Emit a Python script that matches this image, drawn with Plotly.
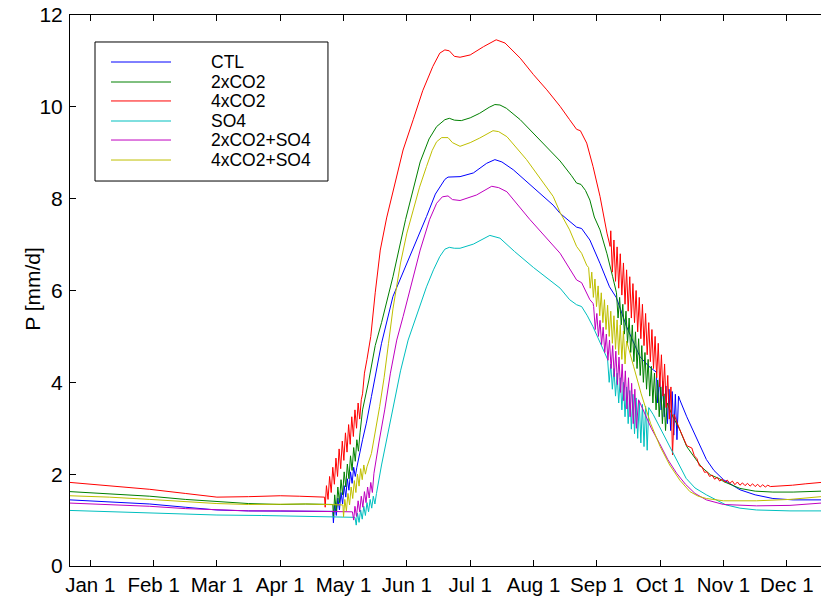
import plotly.graph_objects as go

# x in months since Jan 1 (tick i = 1st of month i+1), y = P [mm/d]
month_labels = ["Jan 1", "Feb 1", "Mar 1", "Apr 1", "May 1", "Jun 1",
                "Jul 1", "Aug 1", "Sep 1", "Oct 1", "Nov 1", "Dec 1"]
series_names = ["CTL", "2xCO2", "4xCO2", "SO4", "2xCO2+SO4", "4xCO2+SO4"]

ctl = [(-0.32,1.44),(0.3,1.40),(0.94,1.35),(1.5,1.28),(2.0,1.22),(2.5,1.20),(3.0,1.20),(3.4,1.20),(3.83,1.19),
       (3.84,0.94),(3.86,1.35),(3.885,1.10),(3.91,1.48),(3.935,1.22),(3.96,1.60),(3.985,1.35),(4.01,1.75),(4.035,1.50),
       (4.06,1.90),(4.085,1.65),(4.11,2.05),(4.135,1.80),(4.16,2.15),(4.185,1.95),
       (4.21,2.15),(4.30,2.75),(4.36,3.11),(4.44,3.69),(4.52,4.27),(4.60,4.85),(4.78,5.87),(5.05,6.74),(5.31,7.61),
       (5.45,8.10),(5.52,8.26),(5.60,8.42),(5.65,8.47),(5.75,8.48),(5.84,8.48),(6.05,8.56),(6.26,8.77),(6.39,8.85),
       (6.50,8.80),(6.68,8.63),(6.99,8.26),(7.31,7.86),(7.42,7.68),(7.55,7.54),(7.68,7.38),(7.76,7.35),(7.89,7.10),
       (8.05,6.59),(8.20,6.08),(8.31,5.84),(8.47,5.21),(8.68,4.56),(8.82,4.35),(8.94,4.22),
       (8.96,3.55),(8.99,4.12),(9.015,3.40),(9.04,4.02),(9.065,3.25),(9.09,3.92),(9.115,3.10),(9.14,3.85),
       (9.165,2.95),(9.19,3.80),(9.215,2.85),(9.24,3.74),(9.265,2.75),(9.29,3.70),
       (9.31,3.62),(9.42,3.25),(9.52,2.96),(9.63,2.62),(9.73,2.32),(9.85,2.08),(10.0,1.88),(10.26,1.66),
       (10.5,1.55),(10.78,1.47),(11.1,1.44),(11.54,1.44)]

co2x2 = [(-0.32,1.62),(0.3,1.57),(0.94,1.52),(1.5,1.45),(2.0,1.40),(2.5,1.36),(3.0,1.34),(3.4,1.35),(3.83,1.34),
         (3.84,1.08),(3.86,1.55),(3.885,1.20),(3.91,1.72),(3.935,1.38),(3.96,1.88),(3.985,1.55),(4.01,2.05),(4.035,1.72),
         (4.06,2.22),(4.085,1.90),(4.11,2.40),(4.135,2.08),(4.16,2.58),(4.185,2.28),(4.21,2.75),(4.235,2.50),
         (4.26,2.90),(4.30,3.40),(4.40,4.05),(4.50,4.80),(4.60,5.30),(4.78,6.30),(4.98,7.55),(5.10,8.20),(5.21,8.80),
         (5.35,9.30),(5.47,9.57),(5.60,9.72),(5.67,9.75),(5.75,9.71),(5.86,9.70),(6.0,9.76),(6.15,9.86),(6.30,9.99),
         (6.39,10.05),(6.47,10.04),(6.57,9.97),(6.79,9.72),(7.10,9.28),(7.42,8.82),(7.60,8.50),(7.68,8.34),(7.75,8.31),
         (7.82,8.18),(7.89,7.97),(7.96,7.60),(8.05,7.32),(8.16,6.80),(8.25,6.30),(8.31,5.95),
         (8.335,5.40),(8.36,5.85),(8.385,5.25),(8.41,5.70),(8.435,5.05),(8.46,5.55),(8.485,4.85),(8.51,5.40),
         (8.535,4.65),(8.56,5.25),(8.585,4.45),(8.61,5.10),(8.635,4.30),(8.66,4.95),(8.685,4.15),(8.71,4.80),
         (8.735,4.00),(8.76,4.65),(8.785,3.85),(8.81,4.50),(8.835,3.70),(8.86,4.35),(8.885,3.55),(8.91,4.20),
         (8.935,3.40),(8.96,4.05),(8.985,3.25),(9.01,3.90),(9.035,3.10),(9.06,3.75),(9.085,2.95),(9.11,3.55),
         (9.20,3.25),(9.30,3.00),(9.42,2.60),(9.65,2.16),(9.80,1.98),(9.94,1.90),(10.0,1.84),(10.26,1.69),
         (10.5,1.63),(10.78,1.61),(11.1,1.61),(11.54,1.63)]

co2x4 = [(-0.32,1.82),(0.3,1.74),(0.94,1.67),(1.5,1.58),(2.0,1.50),(2.5,1.51),(3.0,1.53),(3.3,1.52),(3.70,1.50),
         (3.71,1.28),(3.73,1.75),(3.755,1.45),(3.78,1.95),(3.805,1.60),(3.83,2.15),(3.855,1.78),(3.88,2.35),
         (3.905,1.95),(3.93,2.55),(3.955,2.12),(3.98,2.72),(4.005,2.30),(4.03,2.90),(4.055,2.48),(4.08,3.08),
         (4.105,2.65),(4.13,3.25),(4.155,2.82),(4.18,3.40),(4.205,3.00),(4.23,3.55),(4.255,3.20),(4.28,3.62),
         (4.30,3.75),(4.33,4.20),(4.37,4.50),(4.43,5.00),(4.50,5.95),(4.58,6.88),(4.68,7.58),(4.79,8.19),(4.94,9.06),
         (5.10,9.72),(5.25,10.35),(5.41,10.88),(5.52,11.17),(5.60,11.24),(5.67,11.22),(5.75,11.10),(5.84,11.08),
         (6.0,11.13),(6.21,11.31),(6.41,11.46),(6.55,11.39),(6.79,11.06),(7.0,10.70),(7.21,10.37),(7.42,10.01),
         (7.57,9.72),(7.68,9.51),(7.74,9.48),(7.84,9.21),(7.94,8.70),(8.05,8.05),(8.16,7.25),(8.21,6.96),
         (8.22,7.30),(8.245,6.40),(8.27,7.10),(8.295,6.20),(8.32,6.95),(8.345,6.05),(8.37,6.80),(8.395,5.90),
         (8.42,6.60),(8.445,5.70),(8.47,6.45),(8.495,5.55),(8.52,6.30),(8.545,5.40),(8.57,6.15),(8.595,5.30),
         (8.62,6.00),(8.645,5.10),(8.67,5.85),(8.695,4.95),(8.72,5.70),(8.745,4.80),(8.77,5.50),(8.795,4.60),
         (8.82,5.30),(8.845,4.45),(8.87,5.15),(8.895,4.30),(8.92,5.00),(8.945,4.10),(8.97,4.85),(8.995,3.90),
         (9.02,4.60),(9.045,3.70),(9.07,4.40),(9.095,3.45),(9.12,4.15),(9.145,3.20),(9.17,3.90),(9.195,2.42),
         (9.22,3.30),(9.30,3.00),(9.42,2.62),
         (9.50,2.57),(9.54,2.40),(9.58,2.34),(9.62,2.18),(9.66,2.16),(9.70,2.04),(9.74,2.05),(9.78,1.95),
         (9.82,1.98),(9.86,1.89),(9.90,1.93),(9.94,1.85),(9.98,1.89),(10.02,1.83),(10.06,1.87),(10.10,1.80),
         (10.14,1.85),(10.18,1.77),(10.22,1.83),(10.26,1.76),(10.30,1.81),(10.34,1.75),(10.38,1.80),(10.42,1.74),
         (10.46,1.79),(10.50,1.73),(10.54,1.78),(10.58,1.72),(10.62,1.77),(10.66,1.72),(10.70,1.76),(10.74,1.73),
         (10.9,1.74),(11.09,1.76),(11.3,1.79),(11.54,1.82)]

so4 = [(-0.32,1.21),(0.3,1.18),(0.94,1.15),(1.5,1.13),(2.0,1.11),(2.7,1.10),(3.31,1.09),(3.8,1.07),(4.18,1.06),
       (4.20,0.89),(4.22,1.15),(4.245,0.95),(4.27,1.22),(4.295,1.02),(4.32,1.30),(4.345,1.10),(4.37,1.38),
       (4.395,1.18),(4.42,1.45),(4.445,1.26),(4.47,1.52),(4.495,1.35),
       (4.52,1.58),(4.60,2.20),(4.68,2.75),(4.74,3.15),(4.80,3.60),(4.90,4.25),(5.02,4.92),(5.15,5.45),(5.31,6.08),
       (5.42,6.45),(5.52,6.74),(5.60,6.90),(5.67,6.94),(5.75,6.92),(5.84,6.92),(6.05,7.01),(6.31,7.20),(6.47,7.14),
       (6.70,6.85),(7.0,6.50),(7.2,6.28),(7.42,6.05),(7.57,5.80),(7.68,5.69),(7.76,5.65),(7.85,5.45),(7.94,5.21),
       (8.05,4.88),(8.155,4.56),
       (8.17,4.50),(8.195,4.00),(8.22,4.40),(8.245,3.85),(8.27,4.30),(8.295,3.70),(8.32,4.20),(8.345,3.55),
       (8.37,4.10),(8.395,3.40),(8.42,4.00),(8.445,3.25),(8.47,3.90),(8.495,3.10),(8.52,3.82),(8.545,2.98),
       (8.57,3.74),(8.595,2.88),(8.62,3.66),(8.645,2.78),(8.67,3.58),(8.695,2.68),(8.72,3.52),(8.745,2.60),
       (8.77,3.48),(8.795,2.52),(8.82,3.45),
       (8.89,3.30),(9.02,2.95),(9.15,2.60),(9.28,2.25),(9.41,1.91),(9.55,1.70),(9.73,1.55),(10.04,1.33),
       (10.26,1.26),(10.52,1.22),(11.05,1.20),(11.54,1.20)]

co2x2_so4 = [(-0.32,1.37),(0.3,1.34),(0.94,1.30),(1.5,1.25),(2.0,1.22),(2.5,1.20),(3.0,1.20),(3.5,1.19),(4.14,1.18),
             (4.16,1.00),(4.18,1.30),(4.205,1.08),(4.23,1.42),(4.255,1.18),(4.28,1.52),(4.305,1.28),(4.33,1.62),
             (4.355,1.38),(4.38,1.72),(4.405,1.48),(4.43,1.82),(4.455,1.60),
             (4.48,2.02),(4.56,2.70),(4.65,3.40),(4.74,4.20),(4.84,4.92),(4.94,5.43),(5.08,6.20),(5.21,6.88),
             (5.36,7.55),(5.47,7.90),(5.56,8.04),(5.65,8.06),(5.72,7.98),(5.84,7.96),(6.10,8.08),(6.34,8.27),
             (6.45,8.24),(6.58,8.15),(6.94,7.55),(7.20,7.15),(7.42,6.81),(7.68,6.23),(7.76,6.17),(7.89,5.80),(7.94,5.72),
             (7.95,5.65),(7.975,5.15),(8.00,5.50),(8.025,5.00),(8.05,5.35),(8.075,4.82),(8.10,5.20),(8.125,4.65),
             (8.15,5.05),(8.175,4.48),(8.20,4.92),(8.225,4.30),(8.25,4.80),(8.275,4.12),(8.30,4.68),(8.325,3.95),
             (8.35,4.55),(8.375,3.78),(8.40,4.40),(8.425,3.60),(8.45,4.25),(8.475,3.42),(8.50,4.10),(8.525,3.25),
             (8.55,3.98),(8.575,3.10),(8.60,3.85),(8.625,3.00),
             (8.66,3.62),(8.73,3.40),(8.86,3.00),(8.99,2.67),(9.12,2.32),(9.26,2.02),(9.40,1.78),(9.55,1.58),
             (9.73,1.44),(10.0,1.34),(10.52,1.31),(11.05,1.32),(11.54,1.37)]

co2x4_so4 = [(-0.32,1.53),(0.3,1.50),(0.94,1.45),(1.5,1.40),(2.0,1.36),(2.5,1.34),(3.0,1.34),(3.4,1.35),(3.99,1.33),
             (4.00,1.07),(4.02,1.45),(4.045,1.20),(4.07,1.58),(4.095,1.33),(4.12,1.72),(4.145,1.47),(4.17,1.86),
             (4.195,1.60),(4.22,2.00),(4.245,1.74),(4.27,2.12),(4.295,1.88),(4.32,2.20),(4.345,2.00),
             (4.37,2.16),(4.44,2.45),(4.57,3.47),(4.64,4.10),(4.71,4.85),(4.78,5.60),(4.90,6.60),(5.0,7.25),(5.10,7.75),
             (5.20,8.25),(5.31,8.70),(5.40,9.05),(5.47,9.24),(5.55,9.33),(5.65,9.33),(5.72,9.22),(5.84,9.14),(6.0,9.22),
             (6.15,9.32),(6.36,9.48),(6.45,9.46),(6.58,9.35),(6.89,8.85),(7.21,8.26),(7.31,8.05),(7.42,7.70),(7.57,7.32),
             (7.68,6.96),(7.76,6.81),(7.84,6.55),
             (7.87,6.50),(7.895,6.05),(7.92,6.40),(7.945,5.85),(7.97,6.25),(7.995,5.65),(8.02,6.10),(8.045,5.45),
             (8.07,5.95),(8.095,5.30),(8.12,5.80),(8.145,5.15),(8.17,5.68),(8.195,5.00),(8.22,5.55),(8.245,4.85),
             (8.27,5.45),(8.295,4.72),(8.32,5.36),(8.345,4.60),(8.37,5.25),(8.395,4.50),(8.42,5.12),(8.445,4.40),
             (8.47,4.90),(8.58,4.35),(8.70,3.75),(8.85,3.10),(9.0,2.60),(9.15,2.20),(9.31,1.87),(9.47,1.62),
             (9.60,1.52),(9.73,1.47),(10.0,1.42),(10.52,1.42),(11.05,1.45),(11.54,1.51)]

all_series = [ctl, co2x2, co2x4, so4, co2x2_so4, co2x4_so4]
colors = ["#0000FF", "#008000", "#FF0000", "#00BFBF", "#BF00BF", "#BFBF00"]

FONT = "Liberation Sans, Arial, Helvetica, sans-serif"

fig = go.Figure()
for name, data, col in zip(series_names, all_series, colors):
    xs = [p[0] for p in data]
    ys = [p[1] for p in data]
    fig.add_trace(go.Scatter(x=xs, y=ys, mode="lines", name=name,
                             line=dict(color=col, width=1), showlegend=False))

# Custom MATLAB-style legend box
L_X0, L_X1, L_YT, L_YB = 0.0333, 0.3435, 0.951, 0.6987
fig.add_shape(type="rect", xref="paper", yref="paper", x0=L_X0, x1=L_X1, y0=L_YB, y1=L_YT,
              line=dict(color="black", width=1), fillcolor="white", layer="above")
row_y = [0.9147, 0.8784, 0.8440, 0.8076, 0.7731, 0.7368]
for name, col, yy in zip(series_names, colors, row_y):
    fig.add_shape(type="line", xref="paper", yref="paper", x0=0.0546, x1=0.1345, y0=yy, y1=yy,
                  line=dict(color=col, width=1), layer="above")
    fig.add_annotation(xref="paper", yref="paper", x=0.1851, y=yy, text=name, showarrow=False,
                       xanchor="left", yanchor="middle", font=dict(family=FONT, size=17.5, color="black"))

# y-axis title placed like the MATLAB original
fig.add_annotation(xref="paper", yref="paper", x=-0.0493, y=0.503, text="P [mm/d]", textangle=-90,
                   showarrow=False, xanchor="center", yanchor="middle",
                   font=dict(family=FONT, size=21, color="black"))

fig.update_layout(
    width=821, height=599,
    margin=dict(l=70, r=0, t=15, b=33),
    paper_bgcolor="white", plot_bgcolor="white",
    font=dict(family=FONT, size=21, color="black"),
)
fig.update_xaxes(range=[-0.32, 11.54], tickvals=list(range(12)), ticktext=month_labels,
                 ticks="inside", ticklen=6, tickcolor="black", showline=True, linecolor="black",
                 linewidth=1, mirror="ticks", showgrid=False, zeroline=False,
                 tickfont=dict(size=20.5), ticklabelstandoff=0)
fig.update_yaxes(range=[0, 12], tickvals=[0, 2, 4, 6, 8, 10, 12], ticks="inside", ticklen=6,
                 tickcolor="black", showline=True, linecolor="black", linewidth=1, mirror=False,
                 showgrid=False, zeroline=False, tickfont=dict(size=21), ticklabelstandoff=2)

fig.write_html("out.html")
